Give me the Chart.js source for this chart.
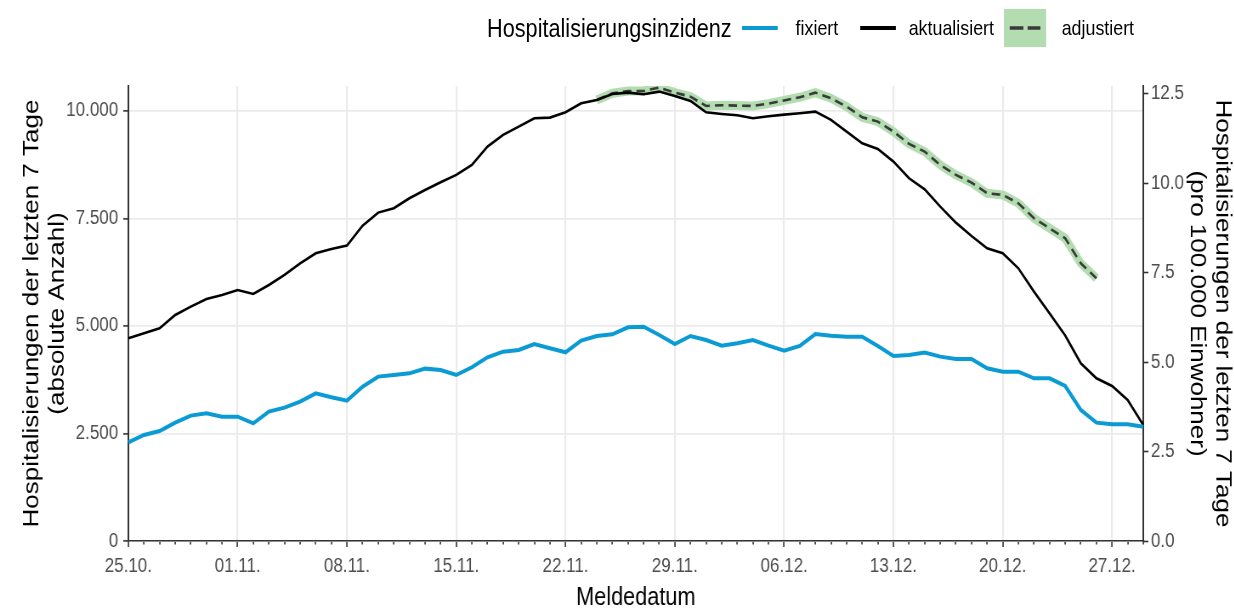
<!DOCTYPE html>
<html>
<head>
<meta charset="utf-8">
<script src="https://cdn.jsdelivr.net/npm/chart.js@4.4.1/dist/chart.umd.min.js"></script>
<style>
  html, body { margin: 0; padding: 0; overflow: hidden; background: #fff; }
  #wrap { position: relative; width: 1452px; height: 610px; transform: scaleX(0.85); transform-origin: 0 0;
          font-family: "Liberation Sans", Arial, sans-serif; }
  #wrap canvas { position: absolute; left: 0; top: 0; }
  .lg { position: absolute; top: 8px; height: 40px; line-height: 40px; white-space: nowrap; color: #000; }
  .sw { position: absolute; }
</style>
</head>
<body>
<div id="wrap">
  <canvas id="myChart" width="1452" height="610"></canvas>
  <div class="lg" style="left:573px;font-size:25.5px">Hospitalisierungsinzidenz</div>
  <div class="sw" style="left:873px;top:26px;width:42px;height:4px;background:#0b9bd4"></div>
  <div class="lg" style="left:936px;font-size:21px">fixiert</div>
  <div class="sw" style="left:1012px;top:26px;width:42px;height:4px;background:#000"></div>
  <div class="lg" style="left:1069px;font-size:21px">aktualisiert</div>
  <svg class="sw" style="left:1181px;top:9px" width="50" height="38">
    <rect x="0" y="0" width="50" height="38" fill="#b3ddb1"/>
    <line x1="7" y1="19" x2="43" y2="19" stroke="#3a3a3a" stroke-width="3.5" stroke-dasharray="16 5"/>
  </svg>
  <div class="lg" style="left:1249px;font-size:21px">adjustiert</div>
</div>
<script>
// Meldedatum, ein Wert pro Tag
const dates = ["25.10.","26.10.","27.10.","28.10.","29.10.","30.10.","31.10.",
  "01.11.","02.11.","03.11.","04.11.","05.11.","06.11.","07.11.",
  "08.11.","09.11.","10.11.","11.11.","12.11.","13.11.","14.11.",
  "15.11.","16.11.","17.11.","18.11.","19.11.","20.11.","21.11.",
  "22.11.","23.11.","24.11.","25.11.","26.11.","27.11.","28.11.",
  "29.11.","30.11.","01.12.","02.12.","03.12.","04.12.","05.12.",
  "06.12.","07.12.","08.12.","09.12.","10.12.","11.12.","12.12.",
  "13.12.","14.12.","15.12.","16.12.","17.12.","18.12.","19.12.",
  "20.12.","21.12.","22.12.","23.12.","24.12.","25.12.","26.12.",
  "27.12.","28.12.","29.12."];

const fixiert = [2295,2465,2558,2752,2915,2969,2891,2891,2736,3008,3101,3240,3434,3341,3264,3589,3822,3860,3899,4008,
  3977,3860,4039,4271,4403,4442,4581,4481,4388,4659,4767,4806,4969,4984,4791,4581,4767,4674,4543,4597,
  4674,4543,4426,4535,4814,4775,4752,4752,4535,4302,4326,4380,4287,4233,4233,4016,3938,3938,3783,3783,
  3605,3047,2752,2713,2713,2659];

const aktualisiert = [4714,4830,4946,5256,5449,5628,5721,5837,5744,5953,6186,6457,6690,6791,6868,7333,7636,7737,7969,8163,
  8341,8512,8744,9170,9442,9636,9829,9845,9969,10178,10256,10395,10426,10388,10450,10349,10233,9969,9930,9899,
  9829,9876,9915,9946,9984,9791,9519,9248,9116,8822,8434,8178,7775,7403,7093,6806,6690,6341,5798,5295,
  4780,4132,3783,3605,3279,2698];

const adjustiert = [null,null,null,null,null,null,null,null,null,null,null,null,null,null,null,null,null,null,null,null,
  null,null,null,null,null,null,null,null,null,null,10256,10411,10465,10465,10543,10426,10333,10116,10132,10124,
  10116,10170,10245,10318,10426,10295,10100,9853,9752,9519,9233,9054,8744,8512,8333,8085,8047,7853,7504,7271,
  7039,6457,6109,null,null,null];

const leftTicks = [0, 2500, 5000, 7500, 10000];
const leftTickLabels = ["0", "2.500", "5.000", "7.500", "10.000"];
const rightTicks = [0, 2.5, 5, 7.5, 10, 12.5];
const rightTickLabels = ["0.0", "2.5", "5.0", "7.5", "10.0", "12.5"];

const einwohnerFaktor = 831.6; // Hospitalisierungen je 1 pro 100.000
const leftMax = 10580;

Chart.defaults.font.family = '"Liberation Sans", Arial, sans-serif';
Chart.defaults.color = '#4d4d4d';

const ctx = document.getElementById('myChart');

new Chart(ctx, {
  type: 'line',
  data: {
    labels: dates,
    datasets: [
      { label: 'fixiert', data: fixiert, borderColor: '#0b9bd4', borderWidth: 4, yAxisID: 'y' },
      { label: 'aktualisiert', data: aktualisiert, borderColor: '#000000', borderWidth: 2.6, yAxisID: 'y' },
      { label: 'adjustiert', data: adjustiert, borderColor: '#3a3a3a', borderWidth: 2.6, borderDash: [10, 6], yAxisID: 'y' },
      { label: 'adjustiert Band', data: adjustiert, borderColor: '#b3ddb1', borderWidth: 9, borderJoinStyle: 'round', yAxisID: 'y' }
    ]
  },
  options: {
    responsive: false,
    animation: false,
    layout: { padding: { top: 86, left: 0, right: 0, bottom: 0 } },
    elements: { point: { radius: 0 }, line: { tension: 0 } },
    plugins: { legend: { display: false }, tooltip: { enabled: false } },
    scales: {
      x: {
        type: 'category',
        offset: false,
        afterFit: s => { s.height = 69; },
        border: { color: '#333', width: 1.6 },
        grid: {
          color: c => c.index % 7 === 0 ? '#ebebeb' : 'rgba(0,0,0,0)',
          lineWidth: 2.2,
          tickColor: '#333',
          tickWidth: 1.6,
          tickLength: 6,
          tickBorderDash: c => c.index % 7 === 0 ? [] : [3, 20]
        },
        ticks: {
          autoSkip: false, maxRotation: 0, padding: 7,
          font: { size: 20 }, color: '#4d4d4d',
          callback: (v, i) => i % 7 === 0 ? dates[i] : ''
        },
        title: { display: true, text: 'Meldedatum', color: '#000', font: { size: 25.5, lineHeight: 1 }, padding: { top: 0, bottom: -1 } }
      },
      y: {
        position: 'left',
        min: 0, max: leftMax,
        afterFit: s => { s.width = 151; },
        afterBuildTicks: s => { s.ticks = leftTicks.map(v => ({ value: v })); },
        border: { color: '#333', width: 2 },
        grid: { color: '#ebebeb', lineWidth: 1.8, tickColor: '#333', tickWidth: 1.6, tickLength: 6 },
        ticks: {
          padding: 6, font: { size: 20 }, color: '#4d4d4d',
          callback: v => leftTickLabels[leftTicks.indexOf(v)]
        },
        title: {
          display: true, color: '#000',
          text: ['Hospitalisierungen der letzten 7 Tage', '(absolute Anzahl)'],
          font: { size: 26, lineHeight: 1.15 }, padding: { top: 23, bottom: 0 }
        }
      },
      y1: {
        position: 'right',
        min: 0, max: leftMax / einwohnerFaktor,
        afterFit: s => { s.width = 107; },
        afterBuildTicks: s => { s.ticks = rightTicks.map(v => ({ value: v })); },
        border: { color: '#333', width: 2 },
        grid: { drawOnChartArea: false, tickColor: '#333', tickWidth: 1.6, tickLength: 6 },
        ticks: {
          padding: 3, font: { size: 20 }, color: '#4d4d4d',
          callback: v => rightTickLabels[rightTicks.indexOf(v)]
        },
        title: {
          display: true, color: '#000',
          text: ['Hospitalisierungen der letzten 7 Tage', '(pro 100.000 Einwohner)'],
          font: { size: 26, lineHeight: 1.15 }, padding: { top: -1, bottom: 0 }
        }
      }
    }
  }
});
</script>
</body>
</html>
